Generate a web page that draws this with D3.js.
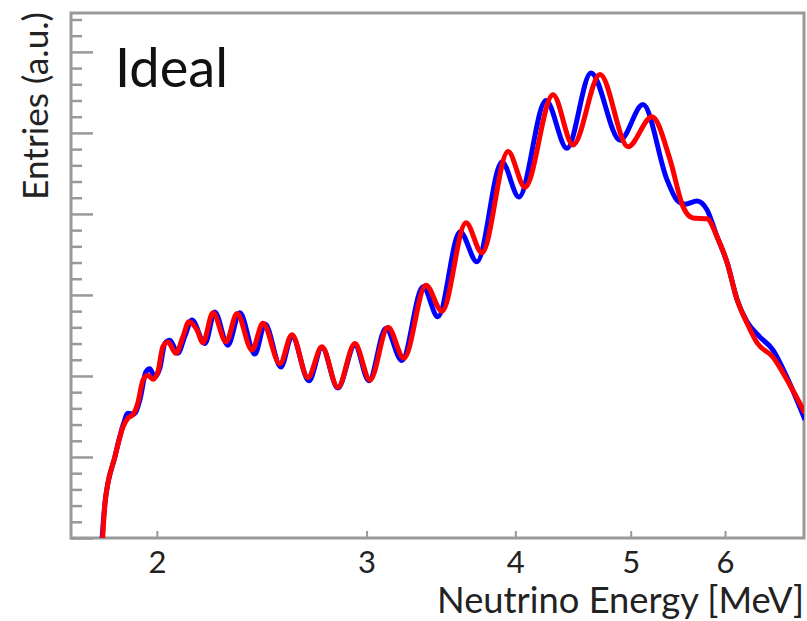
<!DOCTYPE html>
<html><head><meta charset="utf-8">
<script src="https://cdn.jsdelivr.net/npm/d3@7"></script>
<style>html,body{margin:0;padding:0;background:#fff;}</style>
</head><body>
<svg id="chart" width="807" height="621"></svg>
<script>
// ---- data (energy in MeV, entries in arbitrary units) ----
const xTickValues = [2, 3, 4, 5, 6];
const yMajorTicks = [0, 1, 2, 3, 4, 5, 6];
const yMinorTicks = [0.2,0.4,0.6,0.8,1.2,1.4,1.6,1.8,2.2,2.4,2.6,2.8,3.2,3.4,3.6,3.8,4.2,4.4,4.6,4.8,5.2,5.4,5.6,5.8,6.2,6.4];

const blueEnergy = [1.799,1.809,1.844,1.876,1.891,1.913,1.935,1.958,1.973,1.992,2.012,2.031,2.051,2.083,2.111,2.140,2.195,2.237,2.294,2.348,2.417,2.465,2.542,2.597,2.684,2.752,2.838,2.933,3.014,3.114,3.212,3.346,3.444,3.594,3.714,3.898,4.028,4.244,4.420,4.630,4.898,5.120,5.364,5.468,5.554,5.684,5.795,5.908,6.024,6.142,6.261,6.420,6.584,6.765,7.004];
const blueEntries = [0.00,0.43,1.00,1.42,1.54,1.53,1.70,2.05,2.09,1.99,2.10,2.40,2.44,2.28,2.49,2.69,2.40,2.79,2.38,2.78,2.27,2.64,2.11,2.49,1.94,2.35,1.85,2.38,1.94,2.59,2.19,3.10,2.73,3.78,3.41,4.64,4.21,5.40,4.81,5.74,4.91,5.35,4.42,4.17,4.12,4.16,4.05,3.72,3.40,2.94,2.67,2.48,2.32,1.98,1.46];

const redEnergy = [1.801,1.809,1.815,1.844,1.873,1.891,1.909,1.928,1.947,1.965,1.985,2.004,2.023,2.043,2.075,2.103,2.128,2.161,2.186,2.229,2.286,2.335,2.404,2.455,2.537,2.597,2.678,2.752,2.838,2.933,3.020,3.127,3.225,3.365,3.471,3.636,3.750,3.944,4.075,4.302,4.472,4.712,4.974,5.210,5.395,5.532,5.640,5.795,5.908,6.024,6.142,6.261,6.383,6.584,6.765,7.004];
const redEntries = [0.00,0.43,0.59,1.00,1.37,1.48,1.52,1.67,1.95,2.01,1.96,2.05,2.36,2.42,2.28,2.48,2.67,2.57,2.41,2.78,2.42,2.77,2.32,2.65,2.15,2.51,1.98,2.36,1.86,2.40,1.95,2.60,2.22,3.12,2.80,3.89,3.52,4.77,4.33,5.47,4.85,5.72,4.83,5.20,4.67,4.09,3.95,3.94,3.72,3.40,2.94,2.65,2.41,2.23,1.95,1.54];

const titleText = "Ideal";
const xTitle = "Neutrino Energy [MeV]";
const yTitle = "Entries (a.u.)";

// ---- layout ----
const P = {l: 71, r: 804, t: 13, b: 538};
const svg = d3.select("#chart");
const FONT = "Lato, 'Open Sans', sans-serif";
const AXIS = "#999";

const x = d3.scaleLog().domain([1.694, 6.99]).range([P.l, P.r]);
const y = d3.scaleLinear().domain([0, 6.48]).range([P.b, P.t]);

svg.append("defs").append("clipPath").attr("id","clip")
  .append("rect").attr("x",P.l).attr("y",P.t).attr("width",P.r-P.l).attr("height",P.b-P.t);

// y ticks (inside, no labels)
const yMinor = svg.append("g").attr("transform",`translate(${P.l},0)`)
  .call(d3.axisRight(y).tickValues(yMinorTicks).tickSize(11).tickFormat(""));
const yMaj = svg.append("g").attr("transform",`translate(${P.l},0)`)
  .call(d3.axisRight(y).tickValues(yMajorTicks).tickSize(22).tickFormat(""));
[yMinor,yMaj].forEach(g=>{g.select(".domain").remove();g.selectAll("line").attr("stroke",AXIS).attr("stroke-width",2.5);});

// x ticks (inside, small)
const xT = svg.append("g").attr("transform",`translate(0,${P.b})`)
  .call(d3.axisTop(x).tickValues(xTickValues).tickSize(7).tickFormat(""));
xT.select(".domain").remove();
xT.selectAll("line").attr("stroke",AXIS).attr("stroke-width",2);

const xL = svg.append("g").attr("transform",`translate(0,${P.b})`)
  .call(d3.axisBottom(x).tickValues(xTickValues).tickSize(0).tickPadding(13).tickFormat(d3.format("d")));
xL.select(".domain").remove();
xL.selectAll("text").attr("font-family",FONT).attr("font-size",31).attr("fill","#222");

// frame
svg.append("rect").attr("x",P.l).attr("y",P.t).attr("width",P.r-P.l).attr("height",P.b-P.t)
  .attr("fill","none").attr("stroke",AXIS).attr("stroke-width",3);

// curves
const line = d3.line().x(d=>x(d[0])).y(d=>y(d[1])).curve(d3.curveMonotoneX);
const blue = blueEnergy.map((e,i)=>[e,blueEntries[i]]);
const red = redEnergy.map((e,i)=>[e,redEntries[i]]);
const gl = svg.append("g").attr("clip-path","url(#clip)");
gl.append("path").datum(blue).attr("d",line).attr("fill","none").attr("stroke","#0000ff").attr("stroke-width",5).attr("stroke-linejoin","round");
gl.append("path").datum(red).attr("d",line).attr("fill","none").attr("stroke","#ff0000").attr("stroke-width",5).attr("stroke-linejoin","round");

// texts
function fit(sel, target){
  const w = sel.node().getComputedTextLength();
  const fs = parseFloat(sel.attr("font-size"));
  sel.attr("font-size", fs*target/w);
}
const t1 = svg.append("text").attr("x",115).attr("y",87).attr("font-family",FONT).attr("font-size",58).attr("fill","#111").text(titleText);
fit(t1,113);
const t2 = svg.append("text").attr("x",804).attr("y",613).attr("text-anchor","end").attr("font-family",FONT).attr("font-size",34).attr("fill","#222").text(xTitle);
fit(t2,367);
const t3 = svg.append("text").attr("transform","translate(48,12) rotate(-90)").attr("text-anchor","end").attr("font-family",FONT).attr("font-size",34).attr("fill","#222").text(yTitle);
fit(t3,188);
</script>
</body></html>
